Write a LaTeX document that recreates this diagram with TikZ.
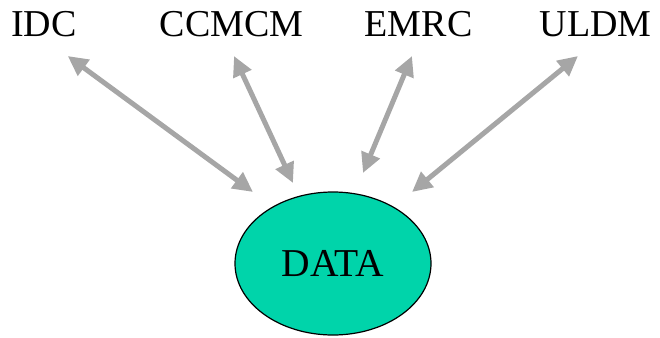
\documentclass[tikz,border=0pt]{standalone}
\usepackage{fontspec}
\setmainfont{Liberation Serif}
\usetikzlibrary{arrows.meta,shapes.geometric}
\definecolor{arrowgray}{HTML}{A6A6A6}
\definecolor{datagreen}{HTML}{00D4AA}
\begin{document}
\begin{tikzpicture}[x=1pt,y=-1pt,
  lbl/.style={anchor=base,inner sep=0pt,font=\fontsize{38}{40}\selectfont},
  link/.style={draw=arrowgray,line width=5pt,
    {Triangle[length=20pt,width=19pt]}-{Triangle[length=20pt,width=19pt]}},
  datanode/.style={ellipse,draw=black,line width=1.2pt,fill=datagreen,
    minimum width=196pt,minimum height=143pt,inner sep=0pt,
    font=\fontsize{39.5}{40}\selectfont}]
\useasboundingbox (0,0) rectangle (660,337);
\node[lbl] (idc) at (44,37) {IDC};
\node[lbl] (ccmcm) at (231.5,37) {CCMCM};
\node[lbl] (emrc) at (418.5,37) {EMRC};
\node[lbl] (uldm) at (595.5,37) {ULDM};
\node[datanode] (data) at (333,263.5) {DATA};
\coordinate (a1) at (67.7,56);
\coordinate (b1) at (253,192);
\coordinate (a2) at (234,56);
\coordinate (b2) at (293,183);
\coordinate (a3) at (412,56);
\coordinate (b3) at (363,173);
\coordinate (a4) at (578,56);
\coordinate (b4) at (412,192);
\draw[link] (a1) -- (b1);
\draw[link] (a2) -- (b2);
\draw[link] (a3) -- (b3);
\draw[link] (a4) -- (b4);
\end{tikzpicture}
\end{document}
